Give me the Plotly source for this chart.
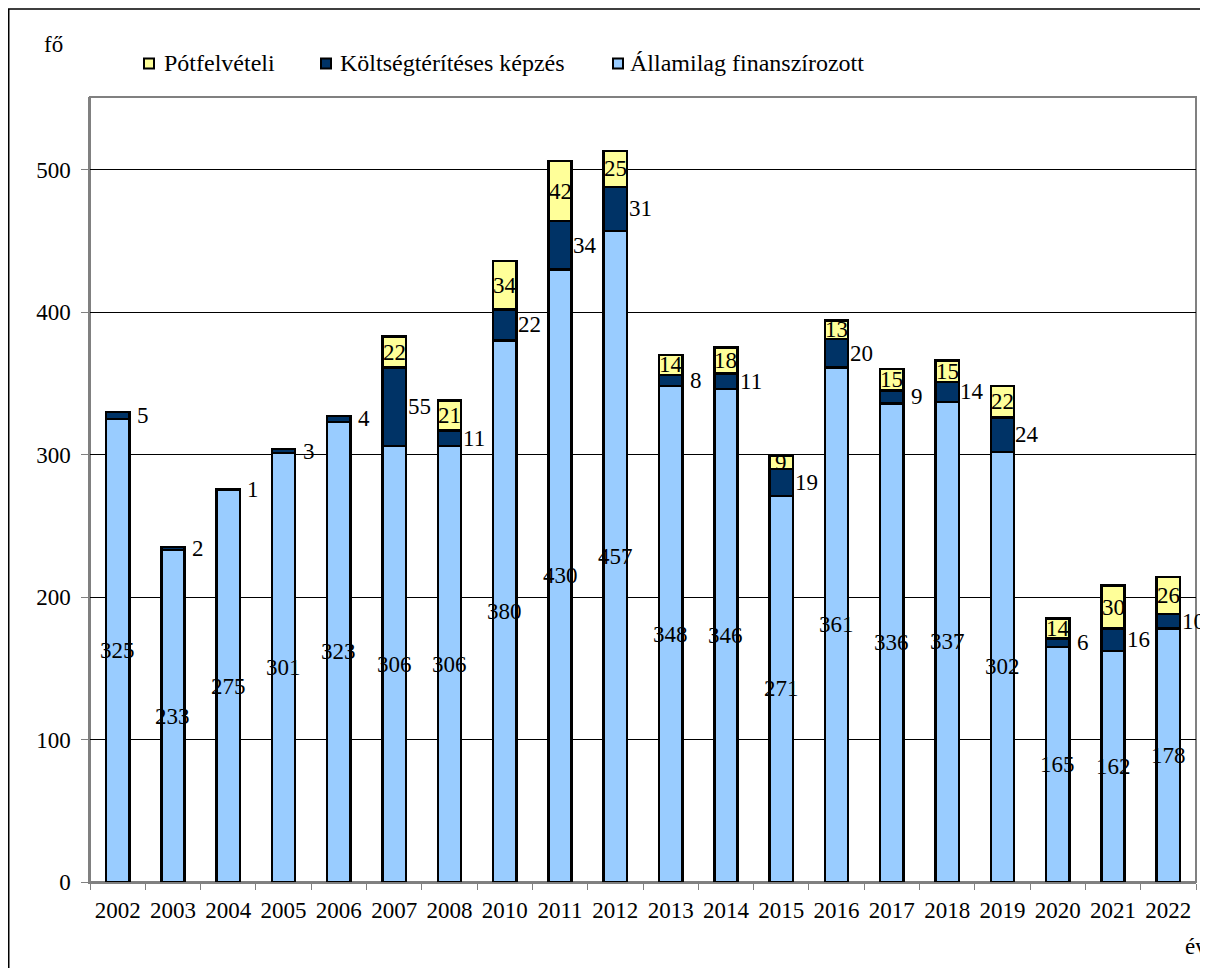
import plotly.graph_objects as go

years = ["2002", "2003", "2004", "2005", "2006", "2007", "2008", "2010", "2011", "2012",
         "2013", "2014", "2015", "2016", "2017", "2018", "2019", "2020", "2021", "2022"]
allami = [325, 233, 275, 301, 323, 306, 306, 380, 430, 457, 348, 346, 271, 361, 336, 337, 302, 165, 162, 178]
koltseg = [5, 2, 1, 3, 4, 55, 11, 22, 34, 31, 8, 11, 19, 20, 9, 14, 24, 6, 16, 10]
pot = [0, 0, 0, 0, 0, 22, 21, 34, 42, 25, 14, 18, 9, 13, 15, 15, 22, 14, 30, 26]

series_names = ["Államilag finanszírozott", "Költségtérítéses képzés", "Pótfelvételi"]
series_colors = ["#99CCFF", "#003366", "#FFFF99"]

FONT = "Liberation Serif, Times New Roman, serif"
FS = 23
BW = 0.42

W, H = 1200, 960
ML, MR, MT, MB = 82, 12, 89, 86
PW, PH = W - ML - MR, H - MT - MB


def px2x(px):
    return (px - ML) / PW


def py2y(py):
    return (H - MB - py) / PH


fig = go.Figure()
for vals, name, col in zip([allami, koltseg, pot], series_names, series_colors):
    fig.add_bar(x=years, y=vals, name=name, width=BW,
                marker=dict(color=col, line=dict(color="black", width=2.5)))

lab_font = dict(family=FONT, size=FS, color="black")
ann = []
for i, (a, k, p) in enumerate(zip(allami, koltseg, pot)):
    ann.append(dict(x=i, y=a / 2, text=str(a), showarrow=False, font=lab_font,
                    xanchor="center", yanchor="middle"))
    ann.append(dict(x=i, y=a + k / 2, text=str(k), showarrow=False, xshift=25, font=lab_font,
                    xanchor="center", yanchor="middle"))
    if p > 0:
        ann.append(dict(x=i, y=a + k + p / 2, text=str(p), showarrow=False, font=lab_font,
                        xanchor="center", yanchor="middle"))

ann.append(dict(xref="paper", yref="paper", x=px2x(45), y=py2y(36), text="fő",
                showarrow=False, font=lab_font, xanchor="center", yanchor="middle"))
ann.append(dict(xref="paper", yref="paper", x=px2x(1201), y=py2y(938), text="év",
                showarrow=False, font=lab_font, xanchor="right", yanchor="middle"))

shapes = [
    dict(type="rect", xref="paper", yref="paper", x0=0, y0=0, x1=1, y1=1,
         line=dict(color="#808080", width=2), layer="below"),
    dict(type="rect", xref="paper", yref="paper", x0=px2x(0.75), y0=py2y(H + 50), x1=px2x(W + 50),
         y1=py2y(1), line=dict(color="black", width=1.5), layer="below"),
]

# manual legend (order: Pótfelvételi, Költségtérítéses képzés, Államilag finanszírozott)
leg_sq_x = [135, 312, 604]
leg_txt_x = [154, 330, 620]
leg_y = 55.5
for j, idx in enumerate([2, 1, 0]):
    shapes.append(dict(type="rect", xref="paper", yref="paper",
                       x0=px2x(leg_sq_x[j] + 1), x1=px2x(leg_sq_x[j] + 11),
                       y0=py2y(leg_y + 5), y1=py2y(leg_y - 5),
                       fillcolor=series_colors[idx], line=dict(color="black", width=2)))
    ann.append(dict(xref="paper", yref="paper", x=px2x(leg_txt_x[j]), y=py2y(leg_y),
                    text=series_names[idx], showarrow=False,
                    font=dict(family=FONT, size=24, color="black"),
                    xanchor="left", yanchor="middle"))

fig.update_layout(
    width=W, height=H,
    margin=dict(l=ML, r=MR, t=MT, b=MB),
    paper_bgcolor="white", plot_bgcolor="white",
    barmode="stack",
    font=dict(family=FONT, size=FS, color="black"),
    showlegend=False,
    annotations=ann,
    shapes=shapes,
    xaxis=dict(type="category", range=[-0.5, len(years) - 0.5], showline=True, linecolor="#808080",
               linewidth=1.5, ticks="outside", tickson="boundaries", ticklen=6, tickcolor="#808080",
               tickfont=dict(family=FONT, size=FS), showgrid=False, tickangle=0,
               ticklabelstandoff=7),
    yaxis=dict(range=[0, 551], dtick=100, showline=True, linecolor="#808080", linewidth=1.5,
               ticks="outside", ticklen=7, tickcolor="#808080", showgrid=True,
               gridcolor="black", gridwidth=1, zeroline=False,
               tickfont=dict(family=FONT, size=FS), ticklabelstandoff=6),
)

fig.write_html("out.html")
